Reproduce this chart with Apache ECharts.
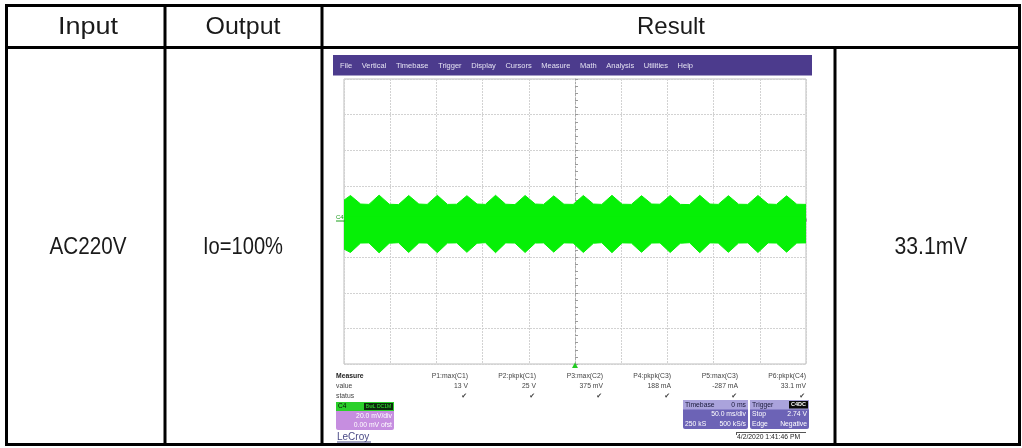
<!DOCTYPE html>
<html><head><meta charset="utf-8">
<script src="https://cdn.jsdelivr.net/npm/echarts/dist/echarts.min.js"></script>
<style>html,body{margin:0;padding:0;background:#fff}#c{width:1022px;height:448px}</style>
</head><body><div id="c"></div><script>
// ---- data ----
const headerLabels = ['Input', 'Output', 'Result'];
const rowInput = 'AC220V';
const rowOutput = 'Io=100%';
const rowResult = '33.1mV';
const menuItems = ['File','Vertical','Timebase','Trigger','Display','Cursors','Measure','Math','Analysis','Utilities','Help'];
const measureNames = ['P1:max(C1)','P2:pkpk(C1)','P3:max(C2)','P4:pkpk(C3)','P5:max(C3)','P6:pkpk(C4)'];
const measureValues = ['13 V','25 V','375 mV','188 mA','-287 mA','33.1 mV'];
const channelInfo = ['C4', 'BwL DC1M', '20.0 mV/div', '0.00 mV ofst'];
const timebaseInfo = ['Timebase', '0 ms', '50.0 ms/div', '250 kS', '500 kS/s'];
const triggerInfo = ['Trigger', 'C4DC', 'Stop', '2.74 V', 'Edge', 'Negative'];
const dateText = '4/2/2020 1:41:46 PM';
// time (ms) of envelope points
const envTime = [-250,-243,-232,-223,-212,-201,-191,-180,-169,-160,-149,-138,-128,-117,-106,-97,-86,-75,-65,-54,-43,-34,-23,-12,-2,9,20,29,40,51,61,72,83,92,103,114,124,135,146,155,166,177,187,198,209,218,229,240,250];
// upper envelope (mV)
const envUpper = [12.0,14.6,9.8,9.6,14.8,9.7,9.5,14.6,9.8,9.6,14.7,9.6,9.7,14.5,9.8,9.6,14.7,9.7,9.5,14.6,9.8,9.6,14.4,9.7,9.6,14.6,9.8,9.6,14.7,9.7,9.6,14.5,9.8,9.7,14.6,9.6,9.5,14.7,9.8,9.6,14.5,9.7,9.6,14.6,9.8,9.6,14.4,9.7,9.6];
// lower envelope (mV)
const envLower = [-15.5,-17.4,-12.1,-12.0,-17.6,-12.2,-11.9,-17.4,-12.0,-12.1,-17.5,-12.1,-12.0,-17.3,-12.2,-11.9,-17.5,-12.0,-12.1,-17.4,-12.1,-12.0,-17.2,-12.0,-12.1,-17.4,-12.2,-11.9,-17.5,-12.0,-12.1,-17.3,-12.1,-12.0,-17.4,-12.2,-11.9,-17.5,-12.0,-12.1,-17.3,-12.1,-12.0,-17.4,-12.0,-12.1,-17.2,-12.1,-12.0];

// ---- chart ----
const chart = echarts.init(document.getElementById('c'), null, {renderer: 'canvas'});
const GREEN = '#06f006';
const upperData = envTime.map((t, i) => [t, envUpper[i]]);
const lowerData = envTime.map((t, i) => [t, envLower[i]]);

const mctx = document.createElement('canvas').getContext('2d');
const G = [];
const T = (text, x, y, font, fill, align, extra) => G.push(Object.assign({
  type: 'text', x: x, y: y, silent: true, z: 10,
  style: {text: text, font: font, fill: fill, textAlign: align || 'left', textVerticalAlign: 'middle'}
}, extra || {}));
const L = (x1, y1, x2, y2, stroke, w, dash) => G.push({
  type: 'line', silent: true, z: 10,
  shape: {x1, y1, x2, y2}, style: {stroke: stroke, lineWidth: w, lineDash: dash || null}
});
const R = (x, y, w, h, fill, r) => G.push({
  type: 'rect', silent: true, z: 9, shape: {x, y, width: w, height: h, r: r || 0}, style: {fill: fill}
});
// table text: thin sans, squeezed horizontally to the given width
const tblFont = '24px "Liberation Sans"';
const TT = (text, cx, cy, width) => {
  mctx.font = tblFont;
  const s = width / mctx.measureText(text).width;
  T(text, cx, cy, tblFont, '#1a1a1a', 'center', {scaleX: s});
};

// table grid
L(5, 5.5, 1021, 5.5, '#000', 3);
L(5, 47.5, 1021, 47.5, '#000', 3);
L(5, 444.5, 1021, 444.5, '#000', 3);
L(6.5, 4, 6.5, 446, '#000', 3);
L(165, 4, 165, 446, '#000', 3);
L(322, 4, 322, 446, '#000', 3);
L(835, 47, 835, 446, '#000', 3);
L(1019.5, 4, 1019.5, 446, '#000', 3);
TT(headerLabels[0], 88, 27, 60);
TT(headerLabels[1], 243, 27, 75);
TT(headerLabels[2], 671, 27, 68);
TT(rowInput, 88, 247, 77);
TT(rowOutput, 243, 247, 80);
TT(rowResult, 931, 247, 73);

// scope menu bar
R(333, 55, 479, 20.5, '#4c3b8d');
const menuFont = '7.5px "Liberation Sans"';
mctx.font = menuFont;
let mx = 340;
menuItems.forEach(m => { T(m, mx, 65.5, menuFont, '#e4e2f2'); mx += mctx.measureText(m).width + 9.6; });

// channel marker & trigger marker
T('C4', 336, 217, '6px "Liberation Sans"', '#1a9a1a');
L(336, 221, 345, 221, '#1aa01a', 1);
G.push({type: 'polygon', silent: true, z: 10, shape: {points: [[575, 362.5], [572, 368], [578, 368]]}, style: {fill: '#22cc22'}});

// measure table
const mFont = '6.8px "Liberation Sans"';
T('Measure', 336, 376, 'bold 6.8px "Liberation Sans"', '#222');
T('value', 336, 386.5, mFont, '#444');
T('status', 336, 396.5, mFont, '#444');
const colRight = [468, 536, 603, 671, 738, 806];
measureNames.forEach((n, i) => {
  T(n, colRight[i], 376, mFont, '#444', 'right');
  T(measureValues[i], colRight[i], 386.5, mFont, '#444', 'right');
  T('\u2714', colRight[i] - 1, 396.5, '7px "DejaVu Sans"', '#444', 'right');
});

// channel box
R(336, 402, 58, 28, '#c68ee0', 2);
R(336, 402, 58, 9, '#2ad02a');
T(channelInfo[0], 338, 406.5, '6.5px "Liberation Sans"', '#0a0a0a');
R(364, 403, 29, 7, '#0c2a0c');
T(channelInfo[1], 378.5, 406.5, '5px "Liberation Sans"', '#33ee33', 'center');
T(channelInfo[2], 392, 416, mFont, '#ffffff', 'right');
T(channelInfo[3], 392, 425, mFont, '#ffffff', 'right');

// timebase box
R(683, 400, 65, 29, '#6c63b6', 2);
R(683, 400, 65, 9.5, '#aaa3dc');
T(timebaseInfo[0], 685, 404.8, mFont, '#1a1a3a');
T(timebaseInfo[1], 746, 404.8, mFont, '#1a1a3a', 'right');
T(timebaseInfo[2], 746, 414.5, mFont, '#ffffff', 'right');
T(timebaseInfo[3], 685, 424, mFont, '#ffffff');
T(timebaseInfo[4], 746, 424, mFont, '#ffffff', 'right');
// trigger box
R(750, 400, 59, 29, '#6c63b6', 2);
R(750, 400, 59, 9.5, '#aaa3dc');
T(triggerInfo[0], 752, 404.8, mFont, '#1a1a3a');
R(789, 401, 19, 7.5, '#0a0a0a');
T(triggerInfo[1], 798.5, 404.8, 'bold 5.5px "Liberation Sans"', '#ffffff', 'center');
T(triggerInfo[2], 752, 414.5, mFont, '#ffffff');
T(triggerInfo[3], 807, 414.5, mFont, '#ffffff', 'right');
T(triggerInfo[4], 752, 424, mFont, '#ffffff');
T(triggerInfo[5], 807, 424, mFont, '#ffffff', 'right');

// date & logo
L(736, 432.5, 806, 432.5, '#555', 1);
L(736.5, 432, 736.5, 435, '#555', 1);
T(dateText, 737, 437.5, mFont, '#222');
T('LeCroy', 337, 437, '10px "Liberation Sans"', '#4a4a86');
L(337, 442, 371, 442, '#4a4a86', 1);

const axisCommon = {
  axisLine: {show: true, onZero: true, lineStyle: {color: '#a8a8a8', width: 1, type: [2, 2]}},
  axisTick: {show: true, inside: true, length: 3, lineStyle: {color: '#9a9a9a'}},
  minorTick: {show: true, splitNumber: 5, length: 3, lineStyle: {color: '#9a9a9a'}},
  axisLabel: {show: false},
  splitLine: {show: true, lineStyle: {color: '#d2d2d2', width: 1, type: [2, 1]}}
};
chart.setOption({
  backgroundColor: '#ffffff',
  animation: false,
  grid: {left: 344, top: 79, width: 462, height: 285, show: true, borderColor: '#bdbdbd', borderWidth: 1, backgroundColor: '#ffffff', containLabel: false},
  xAxis: Object.assign({type: 'value', min: -250, max: 250, interval: 50}, axisCommon),
  yAxis: Object.assign({type: 'value', min: -80, max: 80, interval: 20}, axisCommon),
  series: [
    {type: 'line', data: upperData, showSymbol: false, z: 3,
     lineStyle: {color: GREEN, width: 1}, areaStyle: {color: GREEN, opacity: 1, origin: -3}},
    {type: 'line', data: lowerData, showSymbol: false, z: 3,
     lineStyle: {color: GREEN, width: 1}, areaStyle: {color: GREEN, opacity: 1, origin: 3}}
  ],
  graphic: {elements: G}
});
</script></body></html>
